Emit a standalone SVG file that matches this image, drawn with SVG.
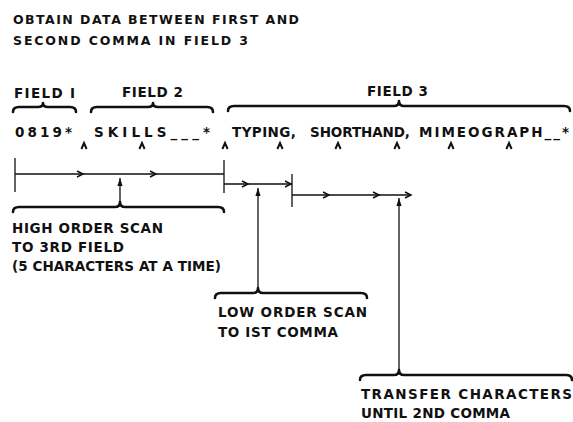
<svg xmlns="http://www.w3.org/2000/svg" width="573" height="422" viewBox="0 0 573 422">
<style>
text{font-family:"DejaVu Sans","Liberation Sans",sans-serif;font-weight:bold;fill:#111;}
.t13{font-size:12.5px;}
.t14{font-size:13.5px;}
.brace{fill:none;stroke:#111;stroke-width:2.6;stroke-linecap:round;stroke-linejoin:round;}
.scan{fill:none;stroke:#111;stroke-width:1.3;}
.chev{fill:none;stroke:#111;stroke-width:1.5;}
.caret{fill:none;stroke:#111;stroke-width:2;}
.ptr{fill:none;stroke:#111;stroke-width:1.3;}
</style>
<defs>
<path id="chevron" class="chev" d="M-6,-3 L0,0 L-6,3"/>
<path id="caretmark" class="caret" d="M-2.6,3 L0,-3 L2.6,3"/>
<marker id="head" markerUnits="userSpaceOnUse" markerWidth="10" markerHeight="8" refX="0" refY="0" viewBox="-9 -4 10 8" orient="auto">
<path d="M0,0 L-8,-2.6 L-8,2.6 Z" fill="#111"/>
</marker>
</defs>
<rect width="573" height="422" fill="#fff"/>

<g id="title">
<text class="t13" x="13" y="24" textLength="286" lengthAdjust="spacing">OBTAIN DATA BETWEEN FIRST AND</text>
<text class="t13" x="13" y="45" textLength="235" lengthAdjust="spacing">SECOND COMMA IN FIELD 3</text>
</g>

<g id="field1">
<text class="t14" x="14" y="98" textLength="61" lengthAdjust="spacing">FIELD I</text>
<path class="brace" d="M13,112 Q13,107 19,107 L38,107 Q43,107 43,103 Q43,107 48,107 L70,107 Q76,107 76,112"/>
</g>
<g id="field2">
<text class="t14" x="122" y="97" textLength="61" lengthAdjust="spacing">FIELD 2</text>
<path class="brace" d="M91,112 Q91,107 97,107 L148,107 Q153,107 153,103 Q153,107 158,107 L207,107 Q213,107 213,112"/>
</g>
<g id="field3">
<text class="t14" x="367" y="96" textLength="61" lengthAdjust="spacing">FIELD 3</text>
<path class="brace" d="M228,111 Q228,106 234,106 L394,106 Q399,106 399,101 Q399,106 404,106 L564,106 Q570,106 570,111"/>
</g>

<g id="record">
<text class="t14" x="15" y="137" textLength="57" lengthAdjust="spacing">0819*</text>
<text class="t14" x="94" y="137" textLength="116" lengthAdjust="spacing">SKILLS___*</text>
<text class="t14" x="232" y="137" textLength="64" lengthAdjust="spacing">TYPING,</text>
<text class="t14" x="310" y="137" textLength="100" lengthAdjust="spacing">SHORTHAND,</text>
<text class="t14" x="419" y="137" textLength="150" lengthAdjust="spacing">MIMEOGRAPH__*</text>
<use href="#caretmark" x="84" y="146"/>
<use href="#caretmark" x="142" y="146"/>
<use href="#caretmark" x="225" y="146"/>
<use href="#caretmark" x="280" y="146"/>
<use href="#caretmark" x="338" y="146"/>
<use href="#caretmark" x="397" y="146"/>
<use href="#caretmark" x="451" y="146"/>
<use href="#caretmark" x="509" y="146"/>
</g>

<g id="connectors">
<path class="scan" d="M15,158 L15,192 M15,174 L224,174 M224,160 L224,193"/>
<use href="#chevron" x="83" y="174"/>
<use href="#chevron" x="156" y="174"/>
<path class="scan" d="M224,184 L292,184 M292,174 L292,207"/>
<use href="#chevron" x="248" y="184"/>
<use href="#chevron" x="291" y="184"/>
<path class="scan" d="M292,195 L410,195"/>
<use href="#chevron" x="329" y="195"/>
<use href="#chevron" x="379" y="195"/>
<use href="#chevron" x="411" y="195"/>
<line class="ptr" x1="120" y1="202" x2="120" y2="178" marker-end="url(#head)"/>
<line class="ptr" x1="258" y1="288" x2="258" y2="188" marker-end="url(#head)"/>
<line class="ptr" x1="399" y1="371" x2="399" y2="198" marker-end="url(#head)"/>
</g>

<g id="high-order-scan">
<path class="brace" d="M13,212 Q13,207 19,207 L115,207 Q120,207 120,202 Q120,207 125,207 L218,207 Q224,207 224,212"/>
<text class="t14" x="12" y="233" textLength="151" lengthAdjust="spacing">HIGH ORDER SCAN</text>
<text class="t14" x="12" y="252" textLength="112" lengthAdjust="spacing">TO 3RD FIELD</text>
<text class="t14" x="12" y="271" textLength="209" lengthAdjust="spacing">(5 CHARACTERS AT A TIME)</text>
</g>

<g id="low-order-scan">
<path class="brace" d="M215,298 Q215,293 221,293 L253,293 Q258,293 258,288 Q258,293 263,293 L361,293 Q367,293 367,298"/>
<text class="t14" x="218" y="317" textLength="149" lengthAdjust="spacing">LOW ORDER SCAN</text>
<text class="t14" x="218" y="337" textLength="120" lengthAdjust="spacing">TO IST COMMA</text>
</g>

<g id="transfer">
<path class="brace" d="M360,380 Q360,375 366,375 L394,375 Q399,375 399,370 Q399,375 404,375 L566,375 Q572,375 572,380"/>
<text class="t14" x="361" y="399" textLength="211" lengthAdjust="spacing">TRANSFER  CHARACTERS</text>
<text class="t14" x="361" y="418" textLength="149" lengthAdjust="spacing">UNTIL 2ND COMMA</text>
</g>
</svg>
